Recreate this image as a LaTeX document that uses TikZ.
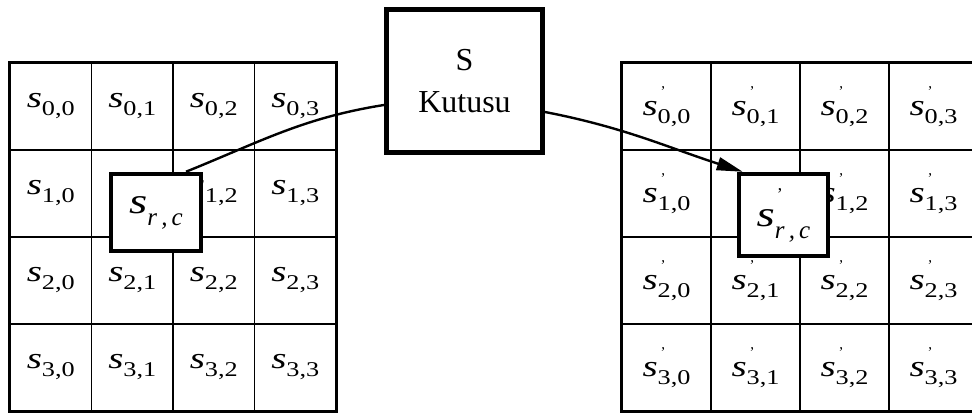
\documentclass[tikz,border=0pt]{standalone}
\usepackage{fontspec}
\setmainfont{Liberation Serif}
\usetikzlibrary{arrows.meta}
\newcommand\svar{{\fontsize{30}{30}\selectfont\itshape\scalebox{1.3}[1]{s}}}
\newcommand\ssub[1]{\raisebox{-8pt}{\fontsize{21}{21}\selectfont\scalebox{1.25}[1]{#1}}}
\newcommand\cs[1]{\svar\ssub{#1}}
\newcommand\cps[1]{\svar\rlap{\raisebox{19pt}{\fontsize{15}{15}\selectfont\hspace{3pt}'}}\ssub{#1}}
\newcommand\bigs{{\fontsize{36}{36}\selectfont\itshape\scalebox{1.3}[1]{s}}}
\newcommand\bsub{\raisebox{-12pt}{\fontsize{25}{25}\selectfont\itshape r\,,\,c}}
\tikzset{
  cellL/.style={draw, line width=1.2pt, minimum width=81.5pt, minimum height=87pt, inner sep=0pt, anchor=center},
  cellR/.style={draw, line width=1.2pt, minimum width=89pt, minimum height=87pt, inner sep=0pt, anchor=center},
  smallbox/.style={draw, fill=white, line width=4.5pt, inner sep=0pt},
  sbox/.style={draw, fill=white, line width=5pt, minimum width=156pt, minimum height=143pt, align=center, inner sep=0pt,
    font=\fontsize{32}{42}\selectfont},
  conn/.style={line width=2.4pt},
}
\begin{document}
\begin{tikzpicture}[x=1pt,y=1pt]
\clip (0,0) rectangle (972,414);
\fill[white] (0,0) rectangle (972,414);
% left grid (cell 1,1 is hidden under the small box)
\foreach \r in {0,...,3}{
  \foreach \c in {0,...,3}{
    \ifnum\r\c=11
      \node[cellL] (L\r\c) at ({10+81.5*(\c+0.5)},{351-87*(\r+0.5)}) {};
    \else
      \node[cellL] (L\r\c) at ({10+81.5*(\c+0.5)},{351-87*(\r+0.5)}) {\cs{\r,\c}};
    \fi
  }
}
\draw[line width=2.2pt] (L00.north west) rectangle (L33.south east);
% right grid
\foreach \r in {0,...,3}{
  \foreach \c in {0,...,3}{
    \ifnum\r\c=11
      \node[cellR] (R\r\c) at ({622+89*(\c+0.5)},{351-87*(\r+0.5)}) {};
    \else
      \node[cellR] (R\r\c) at ({622+89*(\c+0.5)},{351-87*(\r+0.5)}) {\cps{\r,\c}};
    \fi
  }
}
\draw[line width=2.2pt] (R33.south east) -- (R30.south west) -- (R00.north west) -- (R03.north east);
% small boxes
\node[smallbox, minimum width=90pt, minimum height=77pt] (lsb) at (156,201.5)
  {\raisebox{-12pt}{\bigs\bsub}};
\node[smallbox, minimum width=89pt, minimum height=82pt] (rsb) at (783.5,199)
  {\raisebox{-12pt}{\bigs\rlap{\raisebox{26pt}{\fontsize{18}{18}\selectfont\hspace{2pt}'}}\bsub}};
% S box
\node[sbox] (sb) at (464.5,333) {S\\Kutusu};
% connectors
\draw[conn] ([xshift=30pt]lsb.north) to[out=22,in=189] ([yshift=-24pt]sb.west);
\draw[conn, -{Triangle[length=26pt,width=13pt]}] ([yshift=-31pt]sb.east) to[out=-11,in=162] ([xshift=6pt]rsb.north west);
\end{tikzpicture}
\end{document}
